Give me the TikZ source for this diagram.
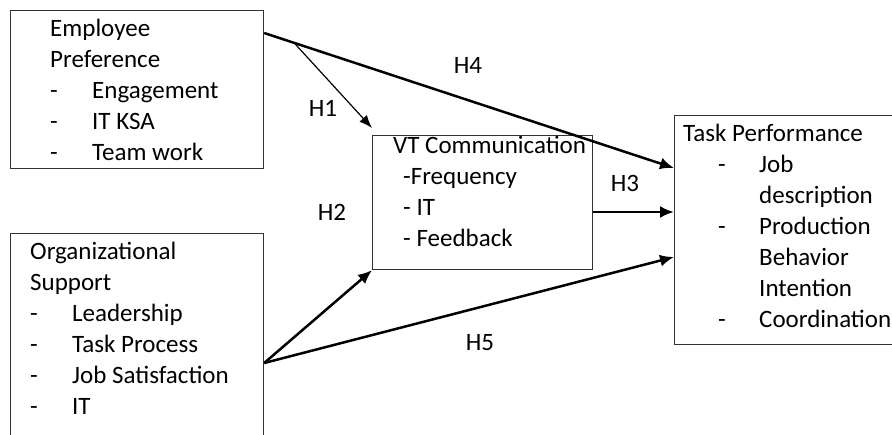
\documentclass[tikz,border=0pt]{standalone}
\usepackage{fontspec}
\setmainfont{Carlito}
\usetikzlibrary{arrows.meta,calc}
\newcommand{\dashit}[1]{\makebox[42pt][l]{-}#1}
\newcommand{\boxlines}[1]{\begin{tabular}[t]{@{}l@{}}#1\end{tabular}}
\tikzset{
  box/.style={draw=black!80, line width=1.2pt, anchor=north west, inner sep=0pt},
  txt/.style={anchor=base west, inner sep=0pt, font=\fontsize{25}{31}\selectfont},
  hyp/.style={font=\fontsize{25}{31}\selectfont, inner sep=0pt},
  link/.style={line width=2.5pt, -{Latex[length=14pt,width=12pt]}},
  thinlink/.style={line width=1.2pt, -{Latex[length=13pt,width=10pt]}}
}
\begin{document}
\begin{tikzpicture}[x=1pt,y=-1pt]
    \useasboundingbox (0,0) rectangle (892,434);
    \clip (0,0) rectangle (892,434);
    \node [box, minimum width=253pt, minimum height=158pt] (ep) at (10,10) {};
    \node [box, minimum width=253pt, minimum height=227pt] (os) at (10,233) {};
    \node [box, minimum width=220pt, minimum height=134pt] (vt) at (372,135) {};
    \node [box, minimum width=250pt, minimum height=229pt] (tp) at (674,115) {};
    \node [txt] (eptext) at (50,36) {\boxlines{Employee\\Preference\\\dashit{Engagement}\\\dashit{IT KSA}\\\dashit{Team work}}};
    \node [txt] (ostext) at (30,259) {\boxlines{Organizational\\Support\\\dashit{Leadership}\\\dashit{Task Process}\\\dashit{Job Satisfaction}\\\dashit{IT}}};
    \node [txt] (vttext) at (393,153) {\boxlines{VT Communication\\\hspace*{10pt}-Frequency\\\hspace*{10pt}- IT\\\hspace*{10pt}- Feedback}};
    \node [txt] (tptext) at (683,141) {\boxlines{Task Performance\\\hspace*{35pt}\makebox[41pt][l]{-}Job\\\hspace*{76pt}description\\\hspace*{35pt}\makebox[41pt][l]{-}Production\\\hspace*{76pt}Behavior\\\hspace*{76pt}Intention\\\hspace*{35pt}\makebox[41pt][l]{-}Coordination}};
    \coordinate (h4s) at ([yshift=-23pt]ep.north east);
    \coordinate (h4e) at ([yshift=-53pt]tp.north west);
    \coordinate (h1s) at ($(h4s)!0.073!(h4e)$);
    \coordinate (h1e) at ([yshift=7pt]vt.north west);
    \coordinate (oss) at ([yshift=-130pt]os.north east);
    \coordinate (h5e) at ([yshift=-142pt]tp.north west);
    \coordinate (h3s) at ([yshift=-77pt]vt.north east);
    \coordinate (h3e) at (tp.west |- h3s);
    \draw [link] (h4s) -- (h4e);
    \draw [thinlink] (h1s) -- (h1e);
    \draw [link] (oss) -- (vt.south west);
    \draw [link] (oss) -- (h5e);
    \draw [link] (h3s) -- (h3e);
    \node [hyp] (h4) at (468,65) {H4};
    \node [hyp] (h1) at (323,108) {H1};
    \node [hyp] (h2) at (332,212) {H2};
    \node [hyp] (h3) at (625,183) {H3};
    \node [hyp] (h5) at (480,343) {H5};
\end{tikzpicture}
\end{document}
